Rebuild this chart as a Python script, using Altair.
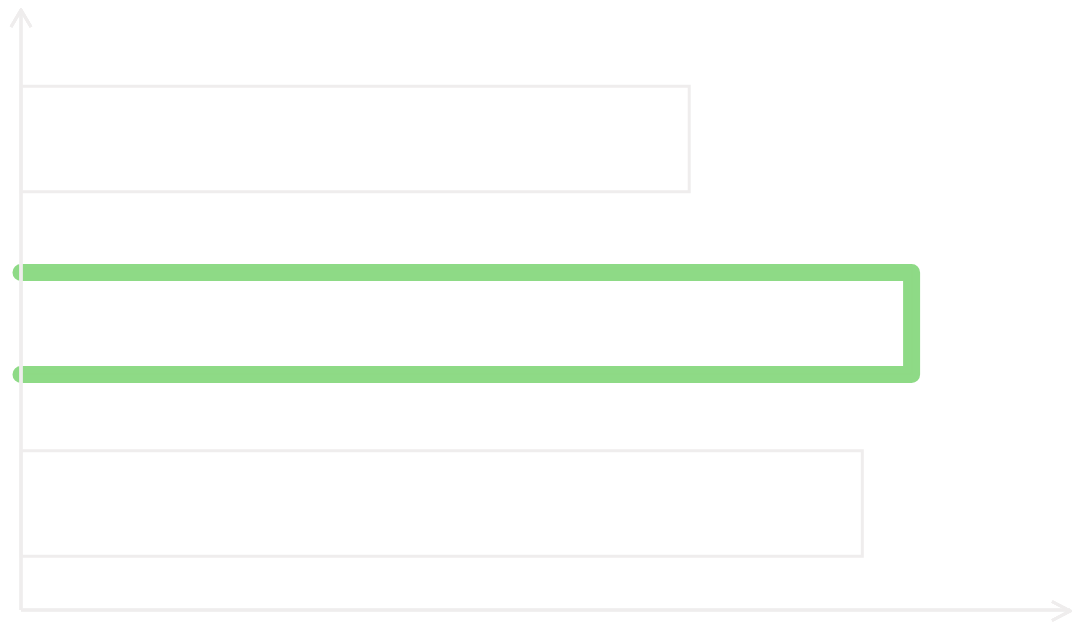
import altair as alt
import pandas as pd

categories = ["A", "B", "C"]
values = [63.7, 84.9, 80.2]
highlight = "B"

GRAY = "#efeded"
GREEN = "#88d880"
W, H = 1049, 600
BAR_HALF = 0.29
HL_HALF = 0.28

bars = pd.DataFrame({"cat": categories, "value": values, "idx": list(range(len(categories)))})
bars["y0"] = bars["idx"] - BAR_HALF
bars["y1"] = bars["idx"] + BAR_HALF
bars["x0"] = 0.0

hv = values[categories.index(highlight)]
hi = categories.index(highlight)
path = pd.DataFrame({
    "x": [0.0, hv, hv, 0.0],
    "y": [hi - HL_HALF + 0.012, hi - HL_HALF + 0.012, hi + HL_HALF + 0.012, hi + HL_HALF + 0.012],
    "order": [0, 1, 2, 3],
})

xscale = alt.Scale(domain=[0, 100], nice=False, zero=False)
yscale = alt.Scale(domain=[-0.7078, 2.5844], nice=False, zero=False, reverse=True)

rects = alt.Chart(bars).mark_rect(
    fill="white", stroke=GRAY, strokeWidth=3
).encode(
    x=alt.X("x0:Q", scale=xscale, axis=None),
    x2="value:Q",
    y=alt.Y("y0:Q", scale=yscale, axis=None),
    y2="y1:Q",
)

green = alt.Chart(path).mark_line(
    color=GREEN, strokeWidth=17, strokeCap="round", strokeJoin="round", opacity=0.95
).encode(
    x=alt.X("x:Q", scale=xscale, axis=None),
    y=alt.Y("y:Q", scale=yscale, axis=None),
    order="order:Q",
)

yaxis = alt.Chart(bars).mark_rule(color=GRAY, strokeWidth=3).encode(
    x=alt.value(0), y=alt.value(0), y2=alt.value(H)
)
xaxis = alt.Chart(bars).mark_rule(color=GRAY, strokeWidth=3).encode(
    y=alt.value(H), x=alt.value(0), x2=alt.value(W)
)
yarrow = alt.Chart(bars).mark_point(
    shape="M-1,1.7L0,0L1,1.7", size=400, filled=False, color=GRAY, strokeWidth=3, opacity=1
).encode(x=alt.value(0), y=alt.value(0))
xarrow = alt.Chart(bars).mark_point(
    shape="M-1.8,-0.95L0,0L-1.8,0.95", size=400, filled=False, color=GRAY, strokeWidth=3, opacity=1
).encode(x=alt.value(W), y=alt.value(H + 1))

chart = alt.layer(rects, green, yaxis, xaxis, yarrow, xarrow).properties(
    width=W, height=H,
    autosize=alt.AutoSizeParams(type="none"),
    padding={"left": 13, "top": 2, "right": 2, "bottom": 18},
    background="white",
).configure_view(stroke=None)

chart.save("out.html", embed_options={"renderer": "svg", "actions": False})
